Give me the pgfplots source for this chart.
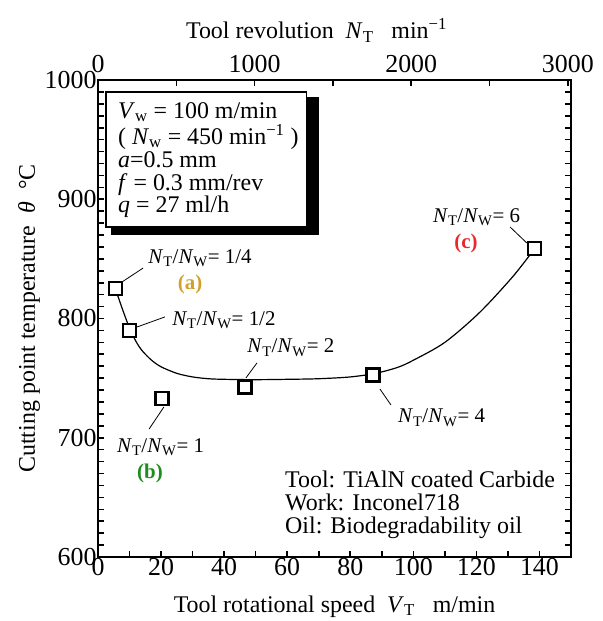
\documentclass[border=0pt]{standalone}
\usepackage{fontspec}
\setmainfont{Liberation Serif}
\usepackage{pgfplots}
\pgfplotsset{compat=1.18}

\definecolor{colA}{HTML}{D4A02C}
\definecolor{colB}{HTML}{1E8C1E}
\definecolor{colC}{HTML}{E8282A}

\newcommand{\tkfont}{\fontsize{26}{26}\selectfont}
\newcommand{\lbfont}{\fontsize{24}{24}\selectfont}
\newcommand{\anfont}{\fontsize{21}{21}\selectfont}
\newcommand{\ratio}[1]{\textit{N}\textsubscript{T}/\textit{N}\textsubscript{W}= #1}

\begin{document}
\begin{tikzpicture}
% main axis: speed vs temperature
\begin{axis}[
  scale only axis,
  width=473bp, height=477bp,
  xmin=0, xmax=150, ymin=600, ymax=1000,
  xtick={0,20,...,140}, minor x tick num=1,
  xticklabels={0,20,40,60,80,100,120,140},
  ytick={600,700,...,1000}, minor y tick num=9,
  yticklabels={600,700,800,900,1000},
  xtick pos=bottom, ytick pos=both,
  tick align=inside,
  major tick length=6bp, minor tick length=6bp,
  axis line style={line width=2.5bp},
  every tick/.style={black, line width=1.6bp},
  ticklabel style={font=\tkfont},
  xticklabel style={yshift=2bp},
  yticklabel style={xshift=2bp},
  xlabel={Tool rotational speed\ \ \textit{V}\textsubscript{T}\ \ \ m/min},
  ylabel={Cutting point temperature\ \ \textit{θ}\ \ °C},
  label style={font=\lbfont},
  xlabel style={at={(axis description cs:0.5,0)}, anchor=base, yshift=-55bp},
  ylabel style={at={(axis description cs:0,0.5)}, anchor=base, yshift=63bp},
  clip=false,
]
\coordinate (bl) at (rel axis cs:0,0);
\coordinate (tr) at (rel axis cs:1,1);

% fitted curve
\addplot[black, line width=1.2bp, smooth] coordinates {
(5.5,825) (8,806) (10,792) (12,781) (14,773) (17,765) (20,759.5)
(25,754) (30,751) (35,749.5) (40,749) (50,748.7) (60,749) (70,749.5)
(80,751) (88,754) (95,759) (100,765) (110,780) (121,805) (131.5,835) (138.3,858)
};

% measured points
\addplot[only marks, mark=square*, mark size=6.5bp,
  mark options={fill=white, draw=black, line width=2.2bp}] coordinates {
(5.5,825) (10.1,790) (20.3,733) (46.6,742.5) (87.2,752.6) (138.3,859)
};

% condition box with shadow
\fill[black] (axis cs:4.2,985.5) rectangle (axis cs:70.1,870);
\draw[black, fill=white, line width=1.2bp] (axis cs:2.54,989.9) rectangle (axis cs:66,876.7);
\node[anchor=base west, inner sep=0, font=\lbfont] at (axis cs:6.34,968.1) {\textit{V}\textsubscript{w} = 100 m/min};
\node[anchor=base west, inner sep=0, font=\lbfont] at (axis cs:6.34,946.2) {( \textit{N}\textsubscript{w} = 450 min\textsuperscript{−1} )};
\node[anchor=base west, inner sep=0, font=\lbfont] at (axis cs:6.34,926.5) {\textit{a}=0.5 mm};
\node[anchor=base west, inner sep=0, font=\lbfont] at (axis cs:6.34,907.3) {\textit{f} = 0.3 mm/rev};
\node[anchor=base west, inner sep=0, font=\lbfont] at (axis cs:6.34,888.5) {\textit{q} = 27 ml/h};

% annotations
\draw[line width=0.8bp] (axis cs:7.6,830.6) -- (axis cs:14.3,842.3);
\node[anchor=base west, inner sep=0, font=\anfont] at (axis cs:15.9,846.5) {\ratio{1/4}};
\node[anchor=base, inner sep=0, font=\anfont\bfseries, text=colA] at (axis cs:29.2,824.7) {(a)};

\draw[line width=0.8bp] (axis cs:12.4,792.9) -- (axis cs:21.2,801.3);
\node[anchor=base west, inner sep=0, font=\anfont] at (axis cs:23.5,794.5) {\ratio{1/2}};

\draw[line width=0.8bp] (axis cs:46.9,750.1) -- (axis cs:50.4,762.7);
\node[anchor=base west, inner sep=0, font=\anfont] at (axis cs:47.3,771.1) {\ratio{2}};

\draw[line width=0.8bp] (axis cs:20.9,725.8) -- (axis cs:16.2,707.3);
\node[anchor=base west, inner sep=0, font=\anfont] at (axis cs:6.0,688) {\ratio{1}};
\node[anchor=base, inner sep=0, font=\anfont\bfseries, text=colB] at (axis cs:16.5,666.2) {(b)};

\draw[line width=0.8bp] (axis cs:89.4,740.9) -- (axis cs:92.9,727.5);
\node[anchor=base west, inner sep=0, font=\anfont] at (axis cs:95.1,712.4) {\ratio{4}};

\draw[line width=0.8bp] (axis cs:130.7,876.7) -- (axis cs:136,863.3);
\node[anchor=base west, inner sep=0, font=\anfont] at (axis cs:106.2,880.9) {\ratio{6}};
\node[anchor=base, inner sep=0, font=\anfont\bfseries, text=colC] at (axis cs:116.7,858.3) {(c)};

% tool / work / oil
\node[anchor=base west, inner sep=0, font=\lbfont] at (axis cs:59.3,658.7) {Tool: TiAlN coated Carbide};
\node[anchor=base west, inner sep=0, font=\lbfont] at (axis cs:59.3,639.4) {Work: Inconel718};
\node[anchor=base west, inner sep=0, font=\lbfont] at (axis cs:59.3,620.1) {Oil: Biodegradability oil};
\end{axis}

% top axis: tool revolution
\begin{axis}[
  scale only axis,
  width=473bp, height=477bp,
  xmin=0, xmax=3020, ymin=600, ymax=1000,
  axis x line*=top, axis y line=none,
  xtick={0,1000,2000,3000}, minor x tick num=1,
  xticklabels={0,1000,2000,3000},
  tick align=inside,
  major tick length=6bp, minor tick length=6bp,
  axis line style={line width=2.5bp},
  every tick/.style={black, line width=1.6bp},
  ticklabel style={font=\tkfont},
  xticklabel style={yshift=4bp},
  xlabel={Tool revolution\ \ \textit{N}\textsubscript{T}\ \ \ min\textsuperscript{−1}},
  xlabel style={font=\lbfont, at={(axis description cs:0.5,1)}, anchor=base, yshift=41bp, xshift=-18bp},
]
\end{axis}

\pgfresetboundingbox
\path[use as bounding box] ([xshift=-98bp,yshift=-64bp]bl) rectangle ([xshift=32bp,yshift=80bp]tr);
\end{tikzpicture}
\end{document}
